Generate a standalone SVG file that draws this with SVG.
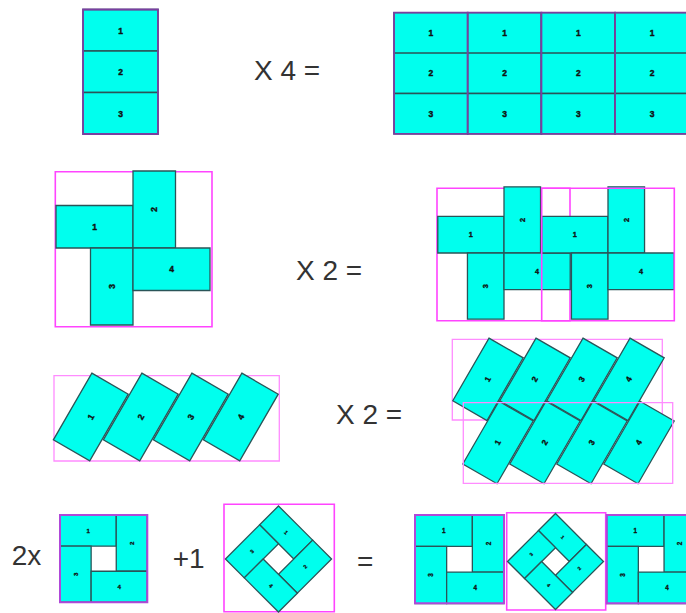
<svg xmlns="http://www.w3.org/2000/svg" width="686" height="613" viewBox="0 0 686 613">
<style>
.c{fill:#00FFEE;stroke:#2A5558;stroke-width:1.3;vector-effect:non-scaling-stroke}
.o{fill:none;stroke:#7A3FA0;stroke-width:1.8;vector-effect:non-scaling-stroke}
.o2{fill:none;stroke:#B048D8;stroke-width:2;vector-effect:non-scaling-stroke}
.m{fill:none;stroke:#FF44FF;stroke-width:1.6;vector-effect:non-scaling-stroke}
.ml{fill:none;stroke:#FF8CFF;stroke-width:1.3;vector-effect:non-scaling-stroke}
.n{font-family:"Liberation Sans",Arial,sans-serif;font-weight:bold;font-size:8.5px;fill:#111;stroke:#111;stroke-width:0.4;text-anchor:middle;dominant-baseline:central}
.op{font-family:"Liberation Sans",Arial,sans-serif;font-size:28px;fill:#333}
</style>
<rect width="686" height="613" fill="#FFFFFF"/>

<!-- Row 1 -->
<g id="strip-single">
<rect class="c" x="83" y="9.5" width="75" height="41.5"/>
<rect class="c" x="83" y="51" width="75" height="41.5"/>
<rect class="c" x="83" y="92.5" width="75" height="41.5"/>
<rect class="o" x="83" y="9.5" width="75" height="124.5"/>
<text class="n" x="120.5" y="30.5">1</text>
<text class="n" x="120.5" y="72">2</text>
<text class="n" x="120.5" y="113.5">3</text>
</g>
<text id="op-x4" class="op" x="254" y="80">X 4 =</text>
<g id="strip-x4">
<g id="col1">
<rect class="c" x="394" y="12.7" width="73.7" height="40.4"/>
<rect class="c" x="394" y="53.1" width="73.7" height="40.4"/>
<rect class="c" x="394" y="93.5" width="73.7" height="40.4"/>
<rect class="o" x="394" y="12.7" width="73.7" height="121.2"/>
<text class="n" x="430.9" y="33">1</text><text class="n" x="430.9" y="73.3">2</text><text class="n" x="430.9" y="113.7">3</text>
</g>
<g id="col2">
<rect class="c" x="467.7" y="12.7" width="73.7" height="40.4"/>
<rect class="c" x="467.7" y="53.1" width="73.7" height="40.4"/>
<rect class="c" x="467.7" y="93.5" width="73.7" height="40.4"/>
<rect class="o" x="467.7" y="12.7" width="73.7" height="121.2"/>
<text class="n" x="504.6" y="33">1</text><text class="n" x="504.6" y="73.3">2</text><text class="n" x="504.6" y="113.7">3</text>
</g>
<g id="col3">
<rect class="c" x="541.4" y="12.7" width="73.7" height="40.4"/>
<rect class="c" x="541.4" y="53.1" width="73.7" height="40.4"/>
<rect class="c" x="541.4" y="93.5" width="73.7" height="40.4"/>
<rect class="o" x="541.4" y="12.7" width="73.7" height="121.2"/>
<text class="n" x="578.3" y="33">1</text><text class="n" x="578.3" y="73.3">2</text><text class="n" x="578.3" y="113.7">3</text>
</g>
<g id="col4">
<rect class="c" x="615.1" y="12.7" width="73.7" height="40.4"/>
<rect class="c" x="615.1" y="53.1" width="73.7" height="40.4"/>
<rect class="c" x="615.1" y="93.5" width="73.7" height="40.4"/>
<rect class="o" x="615.1" y="12.7" width="73.7" height="121.2"/>
<text class="n" x="652" y="33">1</text><text class="n" x="652" y="73.3">2</text><text class="n" x="652" y="113.7">3</text>
</g>
</g>

<!-- Row 2 -->
<g id="pinwheel">
<rect class="m" x="55.3" y="171.7" width="156.7" height="155"/>
<g transform="translate(133,248)">
<rect class="c" x="-77" y="-42.5" width="77" height="42.5"/>
<rect class="c" x="0" y="-77" width="42.5" height="77"/>
<rect class="c" x="-42.5" y="0" width="42.5" height="77"/>
<rect class="c" x="0" y="0" width="77" height="42.5"/>
<text class="n" x="-38.5" y="-21.25">1</text>
<text class="n" transform="translate(21.25,-38.5) rotate(-90)">2</text>
<text class="n" transform="translate(-21.25,38.5) rotate(-90)">3</text>
<text class="n" x="38.5" y="21.25">4</text>
</g>
</g>
<text id="op-x2a" class="op" x="296" y="280">X 2 =</text>
<g id="pinwheel-a">
<rect class="m" x="437" y="188.3" width="133" height="132.4"/>
<g transform="translate(504,253) scale(0.86)">
<rect class="c" x="-77" y="-42.5" width="77" height="42.5"/>
<rect class="c" x="0" y="-77" width="42.5" height="77"/>
<rect class="c" x="-42.5" y="0" width="42.5" height="77"/>
<rect class="c" x="0" y="0" width="77" height="42.5"/>
<text class="n" x="-38.5" y="-21.25">1</text>
<text class="n" transform="translate(21.25,-38.5) rotate(-90)">2</text>
<text class="n" transform="translate(-21.25,38.5) rotate(-90)">3</text>
<text class="n" x="38.5" y="21.25">4</text>
</g>
</g>
<g id="pinwheel-b">
<g transform="translate(608,253) scale(0.86)">
<rect class="c" x="-77" y="-42.5" width="77" height="42.5"/>
<rect class="c" x="0" y="-77" width="42.5" height="77"/>
<rect class="c" x="-42.5" y="0" width="42.5" height="77"/>
<rect class="c" x="0" y="0" width="77" height="42.5"/>
<text class="n" x="-38.5" y="-21.25">1</text>
<text class="n" transform="translate(21.25,-38.5) rotate(-90)">2</text>
<text class="n" transform="translate(-21.25,38.5) rotate(-90)">3</text>
<text class="n" x="38.5" y="21.25">4</text>
</g>
<rect class="m" x="541.7" y="188.3" width="132.6" height="132.4"/>
</g>

<!-- Row 3 -->
<g id="slant-strip">
<rect class="ml" x="54" y="375.7" width="225.3" height="85.3"/>
<g transform="translate(165.8,417)">
<rect class="c" x="-21" y="-38.5" width="42" height="77" transform="translate(-75,0) rotate(30)"/>
<rect class="c" x="-21" y="-38.5" width="42" height="77" transform="translate(-25,0) rotate(30)"/>
<rect class="c" x="-21" y="-38.5" width="42" height="77" transform="translate(25,0) rotate(30)"/>
<rect class="c" x="-21" y="-38.5" width="42" height="77" transform="translate(75,0) rotate(30)"/>
<text class="n" transform="translate(-75,0) rotate(-60)">1</text>
<text class="n" transform="translate(-25,0) rotate(-60)">2</text>
<text class="n" transform="translate(25,0) rotate(-60)">3</text>
<text class="n" transform="translate(75,0) rotate(-60)">4</text>
</g>
</g>
<text id="op-x2b" class="op" x="336" y="424">X 2 =</text>
<g id="slant-strip-a">
<rect class="ml" x="452.3" y="339.3" width="210" height="80.7"/>
<g transform="translate(558.5,379.3) scale(0.94)">
<rect class="c" x="-21" y="-38.5" width="42" height="77" transform="translate(-75,0) rotate(30)"/>
<rect class="c" x="-21" y="-38.5" width="42" height="77" transform="translate(-25,0) rotate(30)"/>
<rect class="c" x="-21" y="-38.5" width="42" height="77" transform="translate(25,0) rotate(30)"/>
<rect class="c" x="-21" y="-38.5" width="42" height="77" transform="translate(75,0) rotate(30)"/>
<text class="n" transform="translate(-75,0) rotate(-60)">1</text>
<text class="n" transform="translate(-25,0) rotate(-60)">2</text>
<text class="n" transform="translate(25,0) rotate(-60)">3</text>
<text class="n" transform="translate(75,0) rotate(-60)">4</text>
</g>
</g>
<g id="slant-strip-b">
<g transform="translate(568.5,442.5) scale(0.94)">
<rect class="c" x="-21" y="-38.5" width="42" height="77" transform="translate(-75,0) rotate(30)"/>
<rect class="c" x="-21" y="-38.5" width="42" height="77" transform="translate(-25,0) rotate(30)"/>
<rect class="c" x="-21" y="-38.5" width="42" height="77" transform="translate(25,0) rotate(30)"/>
<rect class="c" x="-21" y="-38.5" width="42" height="77" transform="translate(75,0) rotate(30)"/>
<text class="n" transform="translate(-75,0) rotate(-60)">1</text>
<text class="n" transform="translate(-25,0) rotate(-60)">2</text>
<text class="n" transform="translate(25,0) rotate(-60)">3</text>
<text class="n" transform="translate(75,0) rotate(-60)">4</text>
</g>
<rect class="ml" x="463.3" y="402.7" width="209.4" height="80.6"/>
</g>

<!-- Row 4 -->
<text id="op-2x" class="op" x="11.7" y="565">2x</text>
<g id="square-block">
<g transform="translate(103.7,558.7) scale(0.728)">
<rect class="c" x="-59.75" y="-59.75" width="77" height="42.5"/>
<rect class="c" x="17.25" y="-59.75" width="42.5" height="77"/>
<rect class="c" x="-59.75" y="-17.25" width="42.5" height="77"/>
<rect class="c" x="-17.25" y="17.25" width="77" height="42.5"/>
<text class="n" x="-21.25" y="-38.5">1</text>
<text class="n" transform="translate(38.5,-21.25) rotate(-90)">2</text>
<text class="n" transform="translate(-38.5,21.25) rotate(-90)">3</text>
<text class="n" x="21.25" y="38.5">4</text>
</g>
<rect class="o2" x="60" y="515" width="87.3" height="87.3"/>
</g>
<text id="op-plus1" class="op" x="172.7" y="568.3">+1</text>
<g id="diamond-block">
<rect class="m" x="224" y="504.3" width="110.3" height="107.5"/>
<g transform="translate(278.5,559) rotate(45) scale(0.628)">
<rect class="c" x="-59.75" y="-59.75" width="77" height="42.5"/>
<rect class="c" x="17.25" y="-59.75" width="42.5" height="77"/>
<rect class="c" x="-59.75" y="-17.25" width="42.5" height="77"/>
<rect class="c" x="-17.25" y="17.25" width="77" height="42.5"/>
<text class="n" x="-21.25" y="-38.5">1</text>
<text class="n" transform="translate(38.5,-21.25) rotate(-90)">2</text>
<text class="n" transform="translate(-38.5,21.25) rotate(-90)">3</text>
<text class="n" x="21.25" y="38.5">4</text>
</g>
</g>
<text id="op-eq" class="op" x="357" y="571">=</text>
<g id="result-square-a">
<g transform="translate(459.5,559.2) scale(0.745)">
<rect class="c" x="-59.75" y="-59.75" width="77" height="42.5"/>
<rect class="c" x="17.25" y="-59.75" width="42.5" height="77"/>
<rect class="c" x="-59.75" y="-17.25" width="42.5" height="77"/>
<rect class="c" x="-17.25" y="17.25" width="77" height="42.5"/>
<text class="n" x="-21.25" y="-38.5">1</text>
<text class="n" transform="translate(38.5,-21.25) rotate(-90)">2</text>
<text class="n" transform="translate(-38.5,21.25) rotate(-90)">3</text>
<text class="n" x="21.25" y="38.5">4</text>
</g>
<rect class="o2" x="415" y="515" width="89" height="88.3"/>
</g>
<g id="result-diamond">
<rect class="m" x="506.7" y="512.7" width="99" height="97.3"/>
<g transform="translate(555.5,561.5) rotate(45) scale(0.568)">
<rect class="c" x="-59.75" y="-59.75" width="77" height="42.5"/>
<rect class="c" x="17.25" y="-59.75" width="42.5" height="77"/>
<rect class="c" x="-59.75" y="-17.25" width="42.5" height="77"/>
<rect class="c" x="-17.25" y="17.25" width="77" height="42.5"/>
<text class="n" x="-21.25" y="-38.5">1</text>
<text class="n" transform="translate(38.5,-21.25) rotate(-90)">2</text>
<text class="n" transform="translate(-38.5,21.25) rotate(-90)">3</text>
<text class="n" x="21.25" y="38.5">4</text>
</g>
</g>
<g id="result-square-b">
<g transform="translate(651.2,559.2) scale(0.745)">
<rect class="c" x="-59.75" y="-59.75" width="77" height="42.5"/>
<rect class="c" x="17.25" y="-59.75" width="42.5" height="77"/>
<rect class="c" x="-59.75" y="-17.25" width="42.5" height="77"/>
<rect class="c" x="-17.25" y="17.25" width="77" height="42.5"/>
<text class="n" x="-21.25" y="-38.5">1</text>
<text class="n" transform="translate(38.5,-21.25) rotate(-90)">2</text>
<text class="n" transform="translate(-38.5,21.25) rotate(-90)">3</text>
<text class="n" x="21.25" y="38.5">4</text>
</g>
<rect class="o2" x="606.7" y="515" width="89" height="88.3"/>
</g>
</svg>
